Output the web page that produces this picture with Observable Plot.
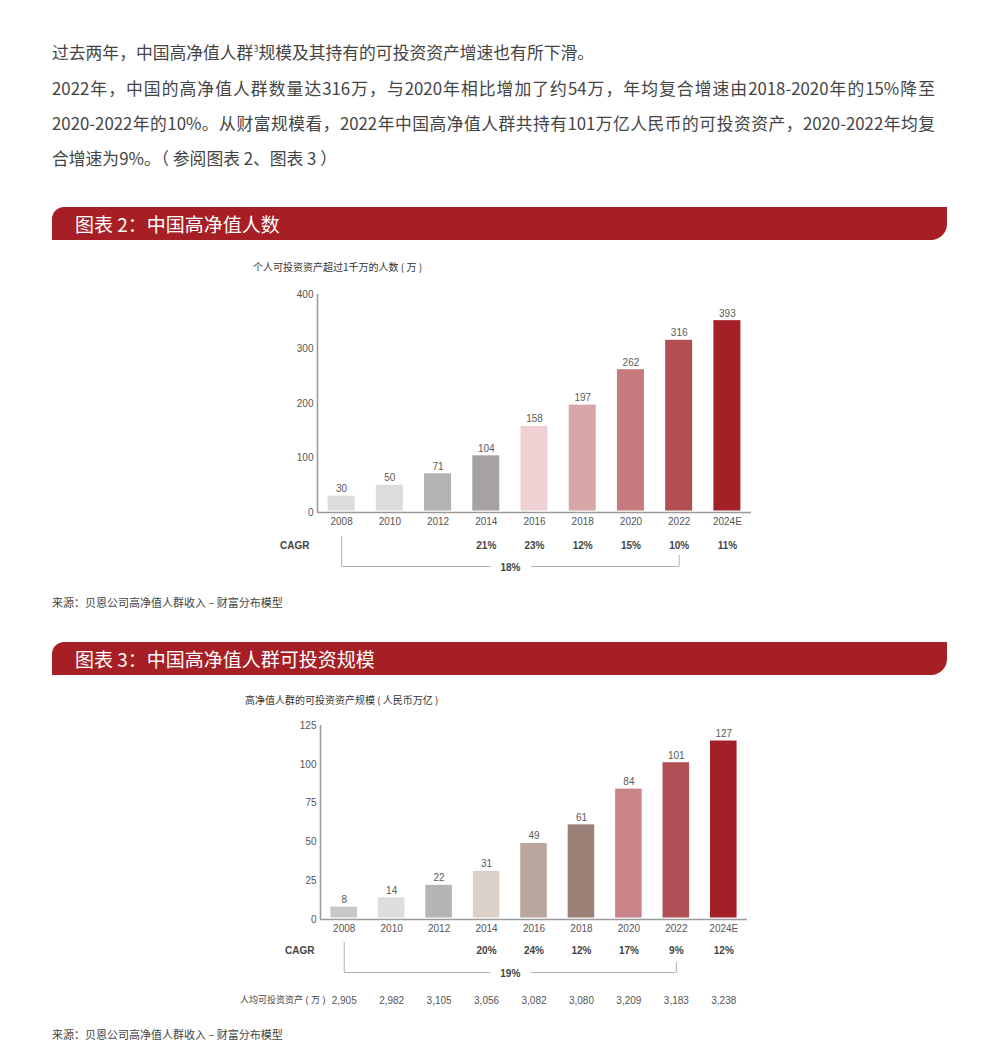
<!DOCTYPE html>
<html>
<head>
<meta charset="utf-8">
<script src="https://cdn.jsdelivr.net/npm/d3@7"></script>
<script src="https://cdn.jsdelivr.net/npm/@observablehq/plot@0.6"></script>
<style>
  html, body { margin: 0; padding: 0; background: #fff; }
  body { width: 1000px; height: 1059px; position: relative; overflow: hidden;
         font-family: "Noto Sans CJK SC", "Noto Sans", sans-serif; }
  .abs { position: absolute; }
  .para { left: 52px; font-size: 16.8px; color: #444; line-height: 20px; white-space: nowrap; }
  .just { width: 883px; white-space: normal; text-align: justify; text-align-last: justify; }
  .hdr { left: 52px; width: 895px; height: 33px; background: #a61f25;
         border-radius: 12px 0 16px 0; color: #fff; font-size: 19px; line-height: 33px; }
  .hdr span { position: absolute; left: 23px; top: 0; }
  .sub { font-size: 10px; color: #333; line-height: 14px; white-space: nowrap; }
  .src { left: 52px; font-size: 11px; color: #444; line-height: 14px; white-space: nowrap; }
  .plotbox { left: 0; width: 1000px; }
  .plotbox svg { overflow: visible; }
</style>
</head>
<body>
<div class="abs para" style="top:42px">过去两年，中国高净值人群<sup style="font-size:9px;line-height:0">3</sup>规模及其持有的可投资资产增速也有所下滑。</div>
<div class="abs para just" style="top:78px">2022年，中国的高净值人群数量达316万，与2020年相比增加了约54万，年均复合增速由2018-2020年的15%降至</div>
<div class="abs para just" style="top:113px">2020-2022年的10%。从财富规模看，2022年中国高净值人群共持有101万亿人民币的可投资资产，2020-2022年均复</div>
<div class="abs para" style="top:148px">合增速为9%。（ 参阅图表 2、图表 3 ）</div>

<div class="abs hdr" style="top:207px"><span>图表 2：中国高净值人数</span></div>
<div class="abs sub" style="left:253px;top:260px">个人可投资资产超过1千万的人数 ( 万 )</div>
<div class="abs plotbox" id="c1" style="top:280px"></div>
<div class="abs plotbox" id="c1a" style="top:535px"></div>
<div class="abs src" style="top:595px">来源：贝恩公司高净值人群收入 – 财富分布模型</div>

<div class="abs hdr" style="top:642px"><span>图表 3：中国高净值人群可投资规模</span></div>
<div class="abs sub" style="left:245px;top:693px">高净值人群的可投资资产规模 ( 人民币万亿 )</div>
<div class="abs plotbox" id="c2" style="top:712px"></div>
<div class="abs plotbox" id="c2a" style="top:940px"></div>
<div class="abs src" style="top:1027px">来源：贝恩公司高净值人群收入 – 财富分布模型</div>

<script>
// ---------- data ----------
const years = ["2008", "2010", "2012", "2014", "2016", "2018", "2020", "2022", "2024E"];

// Chart 2: number of HNWIs (万)
const hnwiLabels = [30, 50, 71, 104, 158, 197, 262, 316, 393];
const hnwiBarHeights = [30, 50, 71, 104, 158, 197, 262, 316, 352]; // 2024E bar is drawn shorter than its label
const hnwiColors = ["#dcdcdc", "#dcdcdc", "#b3b3b3", "#a6a2a1", "#efd1d4", "#d9a6a8", "#c77a7d", "#b34e53", "#a32026"];
const hnwiCagr = [null, null, null, "21%", "23%", "12%", "15%", "10%", "11%"];
const hnwiTotalCagr = "18%";
const hnwiTicks = [0, 100, 200, 300, 400];

// Chart 3: investable assets (人民币万亿)
const assetLabels = [8, 14, 22, 31, 49, 61, 84, 101, 127];
const assetBarHeights = [8, 14, 22, 31, 49, 61, 84, 101, 115]; // 2024E bar is drawn shorter than its label
const assetColors = ["#c7c7c7", "#dcdddc", "#b4b5b4", "#dcd1c9", "#b9a69c", "#9c8179", "#c98489", "#b04f56", "#a22027"];
const assetCagr = [null, null, null, "20%", "24%", "12%", "17%", "9%", "12%"];
const assetTotalCagr = "19%";
const assetTicks = [0, 25, 50, 75, 100, 125];
const perCapita = [2905, 2982, 3105, 3056, 3082, 3080, 3209, 3183, 3238];
const perCapitaLabel = "人均可投资资产 ( 万 )";

const bracketFrom = "2008";
const bracketTo = "2022";

// ---------- drawing ----------
const FONT = "'Liberation Sans', 'Noto Sans CJK SC', sans-serif";
const W = 1000;

function drawChart(o) {
  const n = years.length;
  const step = (o.r1 - o.r0) / n;
  const xCfg = {type: "band", domain: years, paddingInner: 0.44, paddingOuter: 0.22, align: 0.5, round: false};
  const data = years.map((year, i) => ({year, label: o.labels[i], h: o.heights[i], color: o.colors[i], cagr: o.cagr[i], pc: o.perCapita ? o.perCapita[i] : null}));
  const yMax = o.ticks[o.ticks.length - 1];

  const main = Plot.plot({
    width: W,
    height: o.zeroY + o.marginBottom - o.svgTop,
    marginLeft: o.r0,
    marginRight: W - o.r1,
    marginTop: o.topY - o.svgTop,
    marginBottom: o.marginBottom,
    style: {fontFamily: FONT, fontSize: "10px", color: "#555", background: "transparent", overflow: "visible"},
    x: {...xCfg, tickSize: 0, tickPadding: 5, label: null},
    y: {domain: [0, yMax], ticks: o.ticks, tickSize: 0, tickPadding: 4, label: null},
    color: {type: "identity"},
    marks: [
      Plot.barY(data, {x: "year", y: "h", fill: "color", insetBottom: 1.5}),
      Plot.text(data, {x: "year", y: "h", text: d => String(d.label), lineAnchor: "bottom", dy: -4, fill: "#5a5a5a", fontSize: 10}),
      Plot.ruleY([0], {stroke: "#9a9a9a", strokeWidth: 1.6}),
      Plot.ruleX([years[0]], {dx: -step / 2, y1: 0, y2: yMax, stroke: "#9a9a9a", strokeWidth: 1.6})
    ]
  });
  document.getElementById(o.id).appendChild(main);

  // annotation rows (CAGR, overall bracket, per capita)
  const r = o.rows;
  const i0 = years.indexOf(bracketFrom), i1 = years.indexOf(bracketTo);
  const mid = (i0 + i1) / 2;
  const midCat = years[Math.floor(mid)];
  const midDx = (mid - Math.floor(mid)) * step;
  const marks = [
    Plot.text(["CAGR"], {frameAnchor: "left", y: () => r.cagr, text: d => d, textAnchor: "end", dx: o.cagrDx, fontWeight: "bold", fill: "#444", fontSize: 10}),
    Plot.text(data.filter(d => d.cagr), {x: "year", y: () => r.cagr, text: "cagr", fontWeight: "bold", fill: "#444", fontSize: 10}),
    Plot.ruleX([bracketFrom], {y1: () => r.leftTop, y2: () => r.line, stroke: "#b0b0b0", strokeWidth: 1}),
    Plot.ruleX([bracketTo], {y1: () => r.rightTop, y2: () => r.line, stroke: "#b0b0b0", strokeWidth: 1}),
    Plot.link([0], {x1: () => bracketFrom, x2: () => bracketTo, y1: () => r.line, y2: () => r.line, stroke: "#b0b0b0", strokeWidth: 1}),
    Plot.text([o.total], {x: () => midCat, dx: midDx, y: () => r.total, text: d => d, fill: "white", stroke: "white", strokeWidth: 22, fontWeight: "bold", fontSize: 10}),
    Plot.text([o.total], {x: () => midCat, dx: midDx, y: () => r.total, text: d => d, fill: "#444", fontWeight: "bold", fontSize: 10})
  ];
  if (o.perCapita) {
    marks.push(
      Plot.text([perCapitaLabel], {frameAnchor: "left", y: () => r.pc, text: d => d, textAnchor: "end", dx: o.pcDx, fill: "#444", fontSize: 9}),
      Plot.text(data, {x: "year", y: () => r.pc, text: d => d3.format(",")(d.pc), fill: "#555", fontSize: 10})
    );
  }
  const ann = Plot.plot({
    width: W,
    height: o.annH,
    marginLeft: o.r0,
    marginRight: W - o.r1,
    marginTop: 0,
    marginBottom: 0,
    style: {fontFamily: FONT, fontSize: "10px", color: "#444", background: "transparent", overflow: "visible"},
    x: {...xCfg, axis: null},
    y: {domain: [0, o.annH], range: [0, o.annH], axis: null},
    marks
  });
  document.getElementById(o.id + "a").appendChild(ann);
}

drawChart({
  id: "c1", labels: hnwiLabels, heights: hnwiBarHeights, colors: hnwiColors, cagr: hnwiCagr,
  total: hnwiTotalCagr, ticks: hnwiTicks,
  r0: 317, r1: 751, svgTop: 280, topY: 294, zeroY: 512, marginBottom: 23,
  annH: 45, cagrDx: -8,
  rows: {cagr: 10, leftTop: 1, rightTop: 20, line: 31, total: 32}
});

drawChart({
  id: "c2", labels: assetLabels, heights: assetBarHeights, colors: assetColors, cagr: assetCagr,
  total: assetTotalCagr, ticks: assetTicks, perCapita: perCapita,
  r0: 320, r1: 747, svgTop: 712, topY: 725, zeroY: 919, marginBottom: 21,
  annH: 70, cagrDx: -6, pcDx: 5,
  rows: {cagr: 10, leftTop: 2, rightTop: 22, line: 32, total: 33, pc: 60}
});
</script>
</body>
</html>
